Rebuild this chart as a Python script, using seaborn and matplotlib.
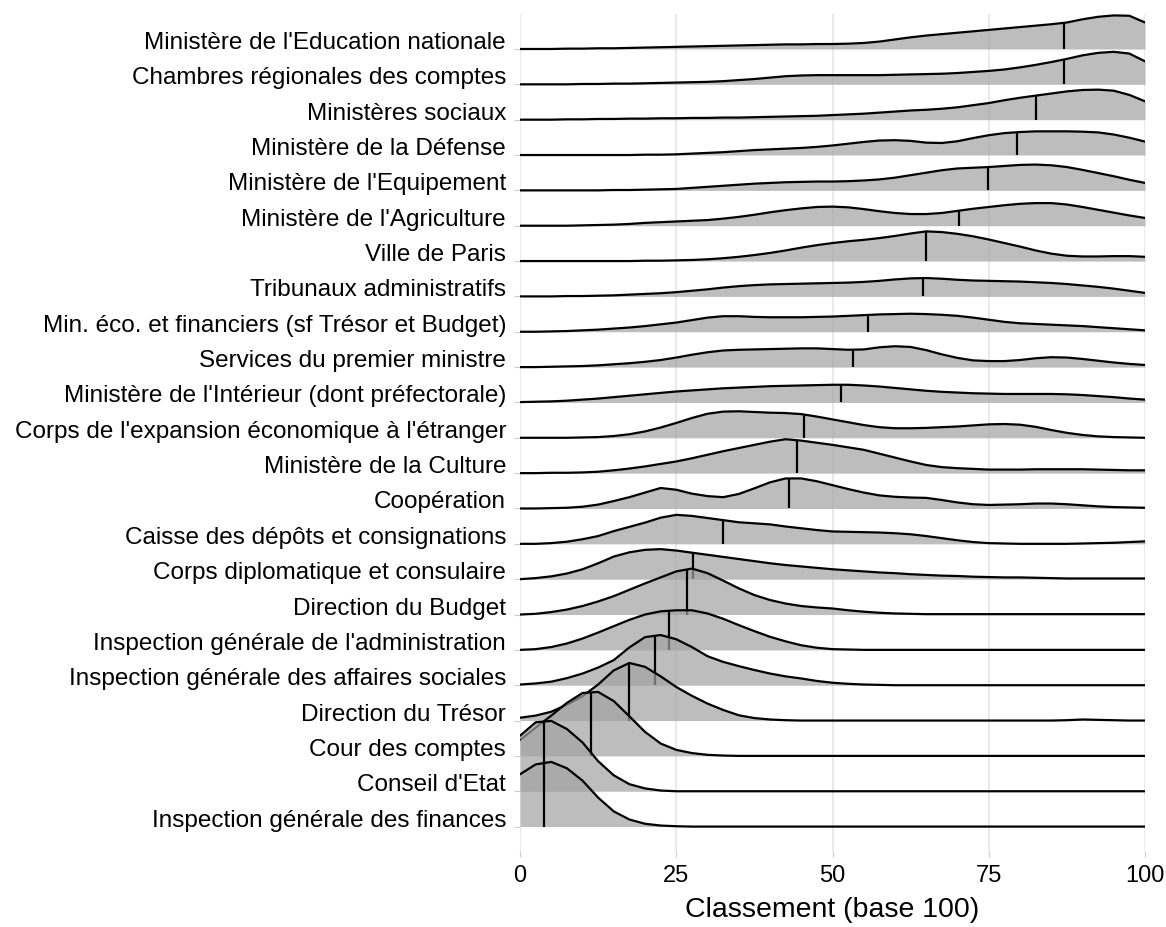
import numpy as np
import matplotlib
matplotlib.use("Agg")
import matplotlib.pyplot as plt
import seaborn as sns

# grille de lecture (classement, base 100)
x_grid = [0, 2.5, 5, 7.5, 10, 12.5, 15, 17.5, 20, 22.5,
          25, 27.5, 30, 32.5, 35, 37.5, 40, 42.5, 45, 47.5,
          50, 52.5, 55, 57.5, 60, 62.5, 65, 67.5, 70, 72.5,
          75, 77.5, 80, 82.5, 85, 87.5, 90, 92.5, 95, 97.5, 100]

# corps, du haut vers le bas
categories = [
    "Ministère de l'Education nationale",
    "Chambres régionales des comptes",
    "Ministères sociaux",
    "Ministère de la Défense",
    "Ministère de l'Equipement",
    "Ministère de l'Agriculture",
    "Ville de Paris",
    "Tribunaux administratifs",
    "Min. éco. et financiers (sf Trésor et Budget)",
    "Services du premier ministre",
    "Ministère de l'Intérieur (dont préfectorale)",
    "Corps de l'expansion économique à l'étranger",
    "Ministère de la Culture",
    "Coopération",
    "Caisse des dépôts et consignations",
    "Corps diplomatique et consulaire",
    "Direction du Budget",
    "Inspection générale de l'administration",
    "Inspection générale des affaires sociales",
    "Direction du Trésor",
    "Cour des comptes",
    "Conseil d'Etat",
    "Inspection générale des finances",
]

medians = [87, 87, 82.5, 79.5, 74.8, 70.3, 65, 64.5, 55.7, 53.3, 51.4, 45.4,
           44.3, 43.0, 32.5, 27.6, 26.7, 23.8, 21.6, 17.5, 11.3, 3.8, 3.8]

# hauteurs des densites (en hauteur de ligne), lues sur x_grid
d_education = [0.00, 0.00, 0.00, 0.01, 0.01, 0.02, 0.02, 0.03, 0.04, 0.05,
               0.06, 0.07, 0.08, 0.09, 0.10, 0.11, 0.12, 0.13, 0.13, 0.14,
               0.14, 0.15, 0.17, 0.21, 0.27, 0.33, 0.38, 0.42, 0.46, 0.50,
               0.54, 0.58, 0.62, 0.66, 0.70, 0.75, 0.84, 0.91, 0.95, 0.94, 0.75]
d_chambres = [0.00, 0.00, 0.00, 0.00, 0.01, 0.01, 0.02, 0.02, 0.03, 0.04,
              0.05, 0.06, 0.07, 0.09, 0.12, 0.15, 0.19, 0.23, 0.25, 0.26,
              0.26, 0.26, 0.26, 0.26, 0.27, 0.28, 0.29, 0.30, 0.32, 0.35,
              0.38, 0.42, 0.48, 0.55, 0.63, 0.72, 0.82, 0.89, 0.92, 0.87, 0.65]
d_sociaux = [0.00, 0.00, 0.00, 0.01, 0.01, 0.02, 0.02, 0.03, 0.03, 0.04,
             0.04, 0.05, 0.05, 0.06, 0.06, 0.07, 0.08, 0.09, 0.10, 0.11,
             0.13, 0.15, 0.17, 0.20, 0.23, 0.26, 0.28, 0.31, 0.35, 0.41,
             0.47, 0.55, 0.62, 0.68, 0.74, 0.80, 0.84, 0.85, 0.82, 0.70, 0.52]
d_defense = [0.00, 0.00, 0.00, 0.00, 0.00, 0.00, 0.00, 0.00, 0.01, 0.01,
             0.02, 0.04, 0.06, 0.08, 0.11, 0.14, 0.16, 0.18, 0.20, 0.23,
             0.27, 0.32, 0.37, 0.41, 0.42, 0.40, 0.35, 0.34, 0.39, 0.48,
             0.56, 0.62, 0.65, 0.67, 0.67, 0.67, 0.66, 0.64, 0.58, 0.49, 0.38]
d_equipement = [0.00, 0.00, 0.00, 0.00, 0.00, 0.00, 0.01, 0.01, 0.02, 0.03,
                0.04, 0.07, 0.10, 0.13, 0.16, 0.19, 0.21, 0.23, 0.24, 0.25,
                0.25, 0.26, 0.28, 0.31, 0.36, 0.43, 0.50, 0.57, 0.62, 0.64,
                0.66, 0.69, 0.72, 0.73, 0.71, 0.66, 0.58, 0.49, 0.40, 0.30, 0.21]
d_agriculture = [0.00, 0.00, 0.00, 0.00, 0.01, 0.02, 0.03, 0.05, 0.08, 0.10,
                 0.12, 0.14, 0.16, 0.20, 0.25, 0.31, 0.38, 0.44, 0.49, 0.53,
                 0.54, 0.52, 0.47, 0.41, 0.36, 0.33, 0.33, 0.36, 0.42, 0.48,
                 0.53, 0.58, 0.62, 0.64, 0.64, 0.60, 0.53, 0.45, 0.37, 0.29, 0.22]
d_paris = [0.00, 0.00, 0.00, 0.00, 0.00, 0.00, 0.00, 0.00, 0.01, 0.01,
           0.02, 0.03, 0.05, 0.08, 0.12, 0.17, 0.23, 0.30, 0.38, 0.45,
           0.51, 0.56, 0.60, 0.65, 0.71, 0.78, 0.84, 0.82, 0.77, 0.70,
           0.61, 0.51, 0.41, 0.30, 0.21, 0.15, 0.13, 0.13, 0.14, 0.14, 0.12]
d_tribunaux = [0.00, 0.00, 0.00, 0.01, 0.01, 0.02, 0.03, 0.05, 0.07, 0.09,
               0.12, 0.16, 0.20, 0.25, 0.29, 0.32, 0.34, 0.35, 0.36, 0.37,
               0.38, 0.39, 0.41, 0.44, 0.48, 0.51, 0.52, 0.50, 0.47, 0.45,
               0.44, 0.43, 0.42, 0.40, 0.38, 0.35, 0.31, 0.27, 0.22, 0.16, 0.10]
d_mineco = [0.00, 0.00, 0.01, 0.02, 0.04, 0.06, 0.09, 0.12, 0.16, 0.21,
            0.26, 0.33, 0.40, 0.44, 0.44, 0.42, 0.41, 0.41, 0.41, 0.42,
            0.43, 0.45, 0.47, 0.49, 0.50, 0.51, 0.50, 0.48, 0.45, 0.40,
            0.34, 0.28, 0.24, 0.22, 0.20, 0.18, 0.16, 0.13, 0.10, 0.07, 0.04]
d_premier = [0.00, 0.00, 0.01, 0.02, 0.03, 0.05, 0.08, 0.11, 0.15, 0.20,
             0.27, 0.35, 0.42, 0.47, 0.49, 0.50, 0.51, 0.52, 0.53, 0.53,
             0.51, 0.49, 0.50, 0.56, 0.59, 0.57, 0.48, 0.36, 0.26, 0.19,
             0.17, 0.17, 0.20, 0.25, 0.28, 0.27, 0.23, 0.18, 0.13, 0.09, 0.06]
d_interieur = [0.01, 0.02, 0.03, 0.05, 0.08, 0.11, 0.15, 0.19, 0.23, 0.27,
               0.31, 0.34, 0.37, 0.40, 0.42, 0.44, 0.46, 0.47, 0.48, 0.49,
               0.50, 0.50, 0.48, 0.45, 0.41, 0.37, 0.33, 0.30, 0.28, 0.26,
               0.25, 0.24, 0.24, 0.24, 0.24, 0.23, 0.21, 0.18, 0.15, 0.11, 0.08]
d_expansion = [0.00, 0.00, 0.00, 0.00, 0.01, 0.02, 0.05, 0.10, 0.18, 0.29,
               0.42, 0.56, 0.68, 0.74, 0.75, 0.73, 0.71, 0.70, 0.67, 0.60,
               0.52, 0.44, 0.36, 0.30, 0.27, 0.27, 0.28, 0.30, 0.32, 0.35,
               0.38, 0.39, 0.37, 0.31, 0.22, 0.14, 0.08, 0.04, 0.02, 0.01, 0.00]
d_culture = [0.00, 0.00, 0.01, 0.01, 0.02, 0.04, 0.08, 0.13, 0.19, 0.26,
             0.33, 0.42, 0.52, 0.62, 0.71, 0.80, 0.89, 0.96, 0.92, 0.86,
             0.80, 0.73, 0.66, 0.55, 0.44, 0.33, 0.23, 0.17, 0.14, 0.12,
             0.10, 0.10, 0.10, 0.11, 0.11, 0.11, 0.11, 0.10, 0.09, 0.08, 0.08]
d_cooperation = [0.00, 0.00, 0.01, 0.02, 0.05, 0.11, 0.21, 0.32, 0.45, 0.58,
                 0.53, 0.42, 0.35, 0.32, 0.41, 0.57, 0.74, 0.85, 0.85, 0.77,
                 0.66, 0.55, 0.45, 0.37, 0.33, 0.31, 0.30, 0.24, 0.17, 0.12,
                 0.10, 0.11, 0.12, 0.14, 0.14, 0.12, 0.09, 0.06, 0.04, 0.03, 0.02]
d_caisse = [0.00, 0.00, 0.02, 0.06, 0.13, 0.22, 0.36, 0.48, 0.60, 0.74,
            0.82, 0.79, 0.73, 0.67, 0.61, 0.58, 0.55, 0.49, 0.44, 0.39,
            0.35, 0.34, 0.33, 0.32, 0.30, 0.27, 0.22, 0.16, 0.10, 0.05,
            0.02, 0.01, 0.00, 0.00, 0.00, 0.00, 0.01, 0.02, 0.03, 0.05, 0.07]
d_diplomatique = [0.00, 0.03, 0.08, 0.16, 0.28, 0.45, 0.64, 0.76, 0.83, 0.85,
                  0.81, 0.75, 0.69, 0.63, 0.57, 0.51, 0.45, 0.40, 0.36, 0.32,
                  0.28, 0.25, 0.22, 0.19, 0.17, 0.14, 0.12, 0.10, 0.09, 0.07,
                  0.06, 0.05, 0.05, 0.04, 0.03, 0.02, 0.02, 0.02, 0.02, 0.02, 0.02]
d_budget = [0.00, 0.02, 0.07, 0.14, 0.24, 0.37, 0.52, 0.70, 0.88, 1.05,
            1.22, 1.30, 1.17, 0.96, 0.74, 0.55, 0.41, 0.31, 0.24, 0.20,
            0.17, 0.12, 0.08, 0.05, 0.03, 0.02, 0.01, 0.01, 0.01, 0.01,
            0.01, 0.01, 0.01, 0.01, 0.01, 0.01, 0.01, 0.01, 0.01, 0.01, 0.01]
d_iga = [0.00, 0.02, 0.08, 0.18, 0.32, 0.49, 0.67, 0.85, 1.00, 1.09,
         1.12, 1.12, 1.03, 0.88, 0.70, 0.53, 0.37, 0.24, 0.13, 0.06,
         0.02, 0.01, 0.00, 0.00, 0.00, 0.00, 0.00, 0.00, 0.00, 0.00,
         0.00, 0.00, 0.00, 0.00, 0.00, 0.00, 0.00, 0.00, 0.00, 0.00, 0.00]
d_igas = [0.02, 0.05, 0.10, 0.20, 0.33, 0.50, 0.71, 1.07, 1.36, 1.42,
          1.30, 1.08, 0.82, 0.66, 0.54, 0.43, 0.33, 0.25, 0.19, 0.12,
          0.07, 0.04, 0.02, 0.01, 0.00, 0.00, 0.00, 0.00, 0.00, 0.00,
          0.00, 0.00, 0.00, 0.00, 0.00, 0.00, 0.00, 0.00, 0.00, 0.00, 0.00]
d_tresor = [0.08, 0.14, 0.25, 0.45, 0.69, 1.02, 1.42, 1.63, 1.52, 1.25,
            0.95, 0.70, 0.48, 0.30, 0.15, 0.07, 0.03, 0.01, 0.00, 0.00,
            0.00, 0.00, 0.00, 0.00, 0.00, 0.00, 0.00, 0.00, 0.00, 0.00,
            0.00, 0.00, 0.00, 0.00, 0.00, 0.01, 0.03, 0.02, 0.01, 0.00, 0.00]
d_cour = [0.45, 0.80, 1.14, 1.50, 1.78, 1.81, 1.55, 1.12, 0.68, 0.35,
          0.17, 0.08, 0.03, 0.01, 0.00, 0.00, 0.00, 0.00, 0.00, 0.00,
          0.00, 0.00, 0.00, 0.00, 0.00, 0.00, 0.00, 0.00, 0.00, 0.00,
          0.00, 0.00, 0.00, 0.00, 0.00, 0.00, 0.00, 0.00, 0.00, 0.00, 0.00]
d_conseil = [1.57, 1.95, 1.99, 1.76, 1.38, 0.85, 0.45, 0.20, 0.08, 0.02,
             0.00, 0.00, 0.00, 0.00, 0.00, 0.00, 0.00, 0.00, 0.00, 0.00,
             0.00, 0.00, 0.00, 0.00, 0.00, 0.00, 0.00, 0.00, 0.00, 0.00,
             0.00, 0.00, 0.00, 0.00, 0.00, 0.00, 0.00, 0.00, 0.00, 0.00, 0.00]
d_igf = [1.48, 1.76, 1.83, 1.65, 1.30, 0.82, 0.43, 0.20, 0.08, 0.03,
         0.01, 0.00, 0.00, 0.00, 0.00, 0.00, 0.00, 0.00, 0.00, 0.00,
         0.00, 0.00, 0.00, 0.00, 0.00, 0.00, 0.00, 0.00, 0.00, 0.00,
         0.00, 0.00, 0.00, 0.00, 0.00, 0.00, 0.00, 0.00, 0.00, 0.00, 0.00]

densities = [d_education, d_chambres, d_sociaux, d_defense, d_equipement,
             d_agriculture, d_paris, d_tribunaux, d_mineco, d_premier,
             d_interieur, d_expansion, d_culture, d_cooperation, d_caisse,
             d_diplomatique, d_budget, d_iga, d_igas, d_tresor, d_cour,
             d_conseil, d_igf]

sns.set_theme(style="whitegrid")
plt.rcParams['font.family'] = ['Liberation Sans', 'DejaVu Sans']

fig = plt.figure(figsize=(11.66, 9.27), dpi=100)
ax = fig.add_axes([0.4460, 0.0820, 0.5360, 0.9029])
ax.set_facecolor('white')

n = len(categories)
for k, (dens, med) in enumerate(zip(densities, medians)):
    base = n - 1 - k
    y = base + np.asarray(dens)
    z = 3 + 2 * k  # les crêtes du bas recouvrent celles du haut
    ax.fill_between(x_grid, base, y, color='#a2a2a2', alpha=0.7, lw=0, zorder=z)
    sns.lineplot(x=x_grid, y=y, color='black', lw=1.6, ax=ax, zorder=z + 1,
                 estimator=None, sort=False)
    top = base + np.interp(med, x_grid, dens)
    ax.plot([med, med], [base, top], color='black', lw=1.6, zorder=z + 1,
            solid_capstyle='butt')

ax.set_xlim(0, 100)
ax.set_ylim(-0.69, 22.99)
ax.set_yticks(range(n))
ax.set_yticklabels(categories[::-1])
ax.set_xticks([0, 25, 50, 75, 100])
ax.set_xticklabels(['0', '25', '50', '75', '100'])

ax.grid(axis='y', visible=False)
ax.grid(axis='x', color='#e3e3e3', lw=1.1)
for spine in ax.spines.values():
    spine.set_visible(False)

ax.tick_params(axis='y', left=True, length=4.3, width=0.8, color='#cccccc',
               pad=5.8, labelsize=17.5, labelcolor='black')
ax.tick_params(axis='x', bottom=True, length=4.3, width=0.8, color='#cccccc',
               pad=6.0, labelsize=17, labelcolor='black')
for lab in ax.get_yticklabels():
    lab.set_va('baseline')

ax.set_xlabel('Classement (base 100)', fontsize=20.5, labelpad=7, color='black')
ax.set_ylabel('')

fig.savefig('out.png', dpi=100)
